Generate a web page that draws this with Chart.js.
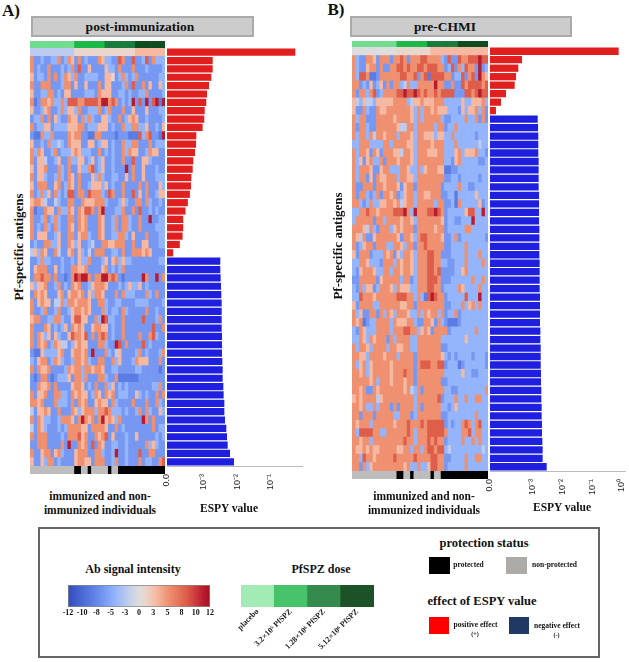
<!DOCTYPE html>
<html>
<head>
<meta charset="utf-8">
<script src="https://cdn.jsdelivr.net/npm/chart.js@4"></script>
<style>
body { margin: 0; background: #fff; width: 629px; height: 662px; overflow: hidden; position: relative; font-family: "Liberation Serif", serif; }
canvas { position: absolute; }
.txt { position: absolute; transform: translate(-50%, -50%); font-weight: bold; white-space: nowrap; color: #111; text-align: center; line-height: 1.15; }
.box { position: absolute; box-sizing: border-box; }
</style>
</head>
<body>
<script>
// Ab signal per antigen (rows) and individual (columns), one character per cell
const levelValues = { 0: 0, 1: -8, 2: -6, 3: -4, 4: -2, 5: 1, 6: 3, 7: 5, 8: 8, 9: 11 };

const signalA = [
  "4444444444 4445555555 5555555555 5666666666",
  "7223223372 3762723222 7633228722 8223827333",
  "7232272223 2372822622 2263327222 7222322223",
  "6233272723 7637223333 2266523732 3722222233",
  "7227772223 7726226222 7266222372 8227262263",
  "6223377232 6622223332 7666223323 2233722223",
  "7127767337 3888778888 7997872323 9282928919",
  "6223672237 3663722333 7237222722 6222622233",
  "2337272632 2766273732 2663227236 7622322223",
  "7233662333 3666772333 6662322733 7733622326",
  "2117337222 2767722117 7222212221 1183782219",
  "6223273343 2766622662 3662322733 7722272333",
  "7376223723 3367633322 7232322737 6622376622",
  "7266422362 2733662362 3622322722 8226632222",
  "6266722273 2722633782 3622322292 7226222322",
  "7266322373 2762722263 7322332262 7226222333",
  "6277722672 3762722366 6362322722 2272722263",
  "7237362732 3882772877 7328722722 8262722366",
  "6776422432 2772276667 7732223632 2772732232",
  "7122766273 3762768872 7922233722 7282232322",
  "7223723732 2772767222 7622372773 2272292233",
  "7232732732 2762767222 7622372773 2272222333",
  "7266622362 2772677322 7622337732 6222722233",
  "2322773362 2763622342 2776677722 7226622233",
  "4637622742 2672632427 7722332722 7776762222",
  "2237332223 2232633722 2362673633 2222222233",
  "2677722623 2277667222 2672323722 2222222222",
  "2778772722 1279899727 7997872122 2229722927",
  "6366722372 3276722367 7762223236 3362322222",
  "2767622267 2677672637 7622272733 3222732722",
  "7267662447 3776777622 7732233222 2333322223",
  "7223722372 2367767622 2732332732 2222722322",
  "6772233773 2268866227 3983322722 2228222372",
  "7222762323 6276762267 7662322722 2222228227",
  "7276362632 2687768272 7872322722 2272278322",
  "7276723764 4236766222 7732298272 2228232222",
  "2116333367 2267767292 2273246222 2372322237",
  "3267723763 2237767322 7722736222 3766622272",
  "7276672222 3767737767 7622332222 2332222212",
  "2127721233 3627737222 7732271111 1122222222",
  "2276672722 2267762327 2273623232 2222223372",
  "7266722773 3276766237 6276723332 2632322727",
  "7767222733 3272767226 7662732222 7222722732",
  "4266762272 2276367773 7787333232 2372732263",
  "7276332237 7762797672 7967637222 2229727222",
  "4276322232 3777766277 7762272322 2222227233",
  "7277722223 2777867227 6782622232 2622222323",
  "2277722227 2922767282 7622332232 2222736322",
  "7226772673 2226777227 7322392232 2282277222",
  "6226377232 2226776627 7722372232 2272332278"
];

const signalB = [
  "0000000000 0005555555 5556666666 6666666666",
  "7322776277 7277872777 8877773282 2877888988",
  "7322677272 2778878778 8788877238 2738772923",
  "7388711277 7777887782 7818888772 3382782976",
  "7723262362 7277347337 7777977227 2287888878",
  "7277378237 7778898898 7877878888 2228878988",
  "6436443666 6677773466 7666777333 3363366673",
  "6227322766 7777777637 3776766633 3263667372",
  "7377222777 7767777637 3777773223 3337337272",
  "7277322777 7776447737 7777377233 7333333333",
  "7377374776 7773777637 7666366337 3333332333",
  "3377733337 7377776637 7776777333 7333333433",
  "7377627627 7766477637 7766677333 6736667332",
  "7362673372 7776777637 7777777332 6733333223",
  "7377762267 7333776337 3677766112 2333333333",
  "7377262766 7773776637 7777777223 3233333233",
  "7227772776 7776267727 7777772333 3733223333",
  "7277323727 7672367737 7667772233 1333336333",
  "7732373366 7767467737 7777377223 1733333623",
  "3377877677 7788897397 7788987233 3336883393",
  "3777772773 7777677637 7777776233 2233393333",
  "7776473277 7367677727 7777677233 3337733333",
  "7647226777 7776277637 8877776223 7233333332",
  "7236772777 3377637727 7877777223 3337333333",
  "6277723337 6726377637 7788772223 3337333733",
  "3377633327 7737677637 7788773322 3337333373",
  "3267776337 7377677637 7788782222 3367333333",
  "2277777267 7777377237 7788872223 3333373373",
  "3273662377 7637666337 7788772333 3763333733",
  "3387776777 7778887737 3189877233 3338333933",
  "6277773377 7777667727 7777777223 3373673733",
  "7362277273 7637776337 3767737233 7233333333",
  "7671233777 7376667732 2776273211 1233333333",
  "3276333777 7377788773 6762777723 3333337333",
  "3376376777 2737777337 7777773333 3336333333",
  "7377637777 3776677337 7777772233 3333333333",
  "7766377776 7773777727 7777776323 2333323332",
  "7367367777 7677777727 8887788233 3123333332",
  "7767367777 7677787727 7777777333 3363322333",
  "7777767377 7677767727 7777772233 3333333333",
  "7767227677 7777767437 2777777332 2333333337",
  "6767777467 7777777737 7777782333 7337337733",
  "7767337377 7272777737 2777773323 6333333333",
  "7727772777 7733777237 7777772233 3333337333",
  "7677737777 7767778777 8788888232 3378737833",
  "7388887733 7777778737 7788888733 3377837733",
  "7767737777 7777787737 7787877233 3373373733",
  "7667676677 7776677377 3788788343 3333333343",
  "7738776777 7787777787 7778877223 3337337733",
  "7727367777 7777767337 3368877233 3337333333"
];

// dose group and protection per individual (same order in both panels)
const doseGroups =  "0000000000 0001111111 1122222222 2333333333";
const protection =  "0000000000 0001100100 0001001111 1111111111";

// ESPY value of each antigen
const espyA = [0.532, 1.82e-3, 1.82e-3, 1.66e-3, 1.41e-3, 1.23e-3, 1.17e-3, 1.05e-3, 1.02e-3, 0.91e-3,
  0.59e-3, 0.58e-3, 0.54e-3, 0.48e-3, 0.46e-3, 0.42e-3, 0.41e-3, 0.38e-3, 0.33e-3, 0.28e-3,
  0.24e-3, 0.24e-3, 0.23e-3, 0.19e-3, 0.12e-3,
  3.07e-3, 3.07e-3, 3.14e-3, 3.22e-3, 3.29e-3, 3.37e-3, 3.37e-3, 3.37e-3, 3.37e-3, 3.45e-3,
  3.45e-3, 3.45e-3, 3.53e-3, 3.61e-3, 3.61e-3, 3.78e-3, 3.86e-3, 4.05e-3, 4.05e-3, 4.24e-3,
  4.64e-3, 4.86e-3, 5.09e-3, 5.97e-3, 7.86e-3];
const espyB = [0.783, 0.425e-3, 0.319e-3, 0.267e-3, 0.240e-3, 0.122e-3, 0.083e-3, 0.056e-3,
  1.44e-3, 1.48e-3, 1.51e-3, 1.51e-3, 1.51e-3, 1.55e-3, 1.55e-3, 1.55e-3, 1.55e-3, 1.60e-3,
  1.60e-3, 1.60e-3, 1.60e-3, 1.64e-3, 1.64e-3, 1.64e-3, 1.64e-3, 1.68e-3, 1.68e-3, 1.68e-3,
  1.68e-3, 1.72e-3, 1.72e-3, 1.72e-3, 1.72e-3, 1.77e-3, 1.77e-3, 1.82e-3, 1.82e-3, 1.82e-3,
  1.86e-3, 1.86e-3, 1.91e-3, 1.91e-3, 1.96e-3, 1.96e-3, 2.01e-3, 2.01e-3, 2.07e-3, 2.12e-3,
  2.12e-3, 2.90e-3];
const redRowsA = 25;
const redRowsB = 8;

const espyTicksA = [7.87e-5, 1e-3, 1e-2, 1e-1];
const espyTickLabelsA = ['0.0', '10⁻³', '10⁻²', '10⁻¹'];
const espyMaxA = 0.841;
const espyTicksB = [3.52e-5, 1e-3, 1e-2, 1e-1, 1];
const espyTickLabelsB = ['0.0', '10⁻³', '10⁻²', '10⁻¹', '10⁰'];
const espyMaxB = 1.283;

const colorbarTicks = [-12, -9.6, -7.2, -4.8, -2.4, 0, 2.4, 4.8, 7.2, 9.6, 12];
const colorbarLabels = ['-12', '-10', '-8', '-5', '-3', '0', '3', '5', '8', '10', '12'];

const doseLabels = ['placebo', '3.2×10⁵ PfSPZ', '1.28×10⁶ PfSPZ', '5.12×10⁶ PfSPZ'];
const doseLegendValues = [1, 1, 1, 1];

// colours
const signalStops = [
  [-12, [52, 76, 190]], [-8, [90, 124, 228]], [-6, [118, 152, 242]], [-4, [148, 180, 251]], [-2, [188, 203, 238]],
  [0, [221, 221, 221]], [1, [233, 214, 204]], [3, [246, 184, 160]], [5, [239, 144, 112]], [8, [222, 94, 75]],
  [11, [184, 26, 46]], [12, [165, 15, 34]]
];
const doseStrip = ['#72dc8e', '#1cb848', '#1a7c3c', '#0f4d20'];
const doseSwatch = ['#a3ebb5', '#47c46a', '#358a4e', '#1d5228'];
const red = '#e21f1f';
const blue = '#1f1fe0';
const serif = '"Liberation Serif", serif';

function signalColor(v) {
  for (let i = 1; i < signalStops.length; i++) {
    if (v <= signalStops[i][0]) {
      const a = signalStops[i - 1], b = signalStops[i];
      const t = (v - a[0]) / (b[0] - a[0]);
      const c = a[1].map((x, k) => Math.round(x + (b[1][k] - x) * t));
      return `rgb(${c[0]},${c[1]},${c[2]})`;
    }
  }
  return 'rgb(165,15,34)';
}

function addCanvas(x, y, w, h) {
  const c = document.createElement('canvas');
  c.width = w;
  c.height = h;
  c.style.left = x + 'px';
  c.style.top = y + 'px';
  c.style.width = w + 'px';
  c.style.height = h + 'px';
  document.body.appendChild(c);
  return c.getContext('2d');
}

function addText(text, x, y, size, extra) {
  const d = document.createElement('div');
  d.className = 'txt';
  d.innerHTML = text;
  d.style.left = x + 'px';
  d.style.top = y + 'px';
  d.style.fontSize = size + 'px';
  if (extra) Object.assign(d.style, extra);
  document.body.appendChild(d);
}

function addBox(x, y, w, h, style) {
  const d = document.createElement('div');
  d.className = 'box';
  d.style.left = x + 'px';
  d.style.top = y + 'px';
  d.style.width = w + 'px';
  d.style.height = h + 'px';
  Object.assign(d.style, style);
  document.body.appendChild(d);
}

// heatmap: horizontal stacked bars, each individual is a dataset of unit length
function cellChart(x, y, w, h, rows, cellColor) {
  const clean = rows.map(r => r.replace(/ /g, ''));
  const datasets = [];
  for (let c = 0; c < clean[0].length; c++) {
    datasets.push({
      data: clean.map(() => 1),
      backgroundColor: clean.map(r => cellColor(r[c])),
      barPercentage: 1,
      categoryPercentage: 1,
      borderWidth: 0
    });
  }
  new Chart(addCanvas(x, y, w, h), {
    type: 'bar',
    data: { labels: clean.map((r, i) => i), datasets: datasets },
    options: {
      indexAxis: 'y',
      responsive: false,
      animation: false,
      events: [],
      layout: { padding: 0 },
      plugins: { legend: { display: false }, tooltip: { enabled: false } },
      scales: {
        x: { type: 'linear', stacked: true, min: 0, max: clean[0].length, display: false },
        y: { stacked: true, display: false }
      }
    }
  });
}

function espyChart(x, y, w, h, values, redRows, tickValues, tickLabels, maxValue) {
  new Chart(addCanvas(x, y, w, h), {
    type: 'bar',
    data: {
      labels: values.map((v, i) => i),
      datasets: [{
        data: values,
        backgroundColor: values.map((v, i) => i < redRows ? red : blue),
        barPercentage: 0.86,
        categoryPercentage: 1,
        borderWidth: 0
      }]
    },
    options: {
      indexAxis: 'y',
      responsive: false,
      animation: false,
      events: [],
      layout: { padding: { left: 10, right: 20, top: 0, bottom: 0 } },
      plugins: { legend: { display: false }, tooltip: { enabled: false } },
      scales: {
        y: { display: false },
        x: {
          type: 'logarithmic',
          bounds: 'data',
          min: tickValues[0],
          max: maxValue,
          position: 'bottom',
          grid: { display: false, drawTicks: false },
          border: { color: '#bbbbbb', width: 1 },
          afterBuildTicks: axis => { axis.ticks = tickValues.map(v => ({ value: v })); },
          afterFit: axis => { axis.height = 30; },
          ticks: {
            autoSkip: false,
            minRotation: 90,
            maxRotation: 90,
            padding: 8,
            color: '#222',
            font: { family: '"Liberation Sans", sans-serif', size: 9 },
            callback: (value, index) => tickLabels[index]
          }
        }
      }
    }
  });
}

// panel A
cellChart(30, 41, 135, 7, [doseGroups], v => doseStrip[v]);
cellChart(30, 48, 135, 418, signalA, v => signalColor(levelValues[v]));
cellChart(30, 466, 135, 8, [protection], v => v === '1' ? '#000' : '#bdbdbd');
espyChart(157, 48, 165, 448, espyA, redRowsA, espyTicksA, espyTickLabelsA, espyMaxA);

// panel B
cellChart(352, 41, 136, 6, [doseGroups], v => doseStrip[v]);
cellChart(352, 47, 136, 424, signalB, v => signalColor(levelValues[v]));
cellChart(352, 471, 136, 8, [protection], v => v === '1' ? '#000' : '#bdbdbd');
espyChart(480, 47, 165, 454, espyB, redRowsB, espyTicksB, espyTickLabelsB, espyMaxB);

// panel headers and axis titles
addBox(31, 16, 223, 21, { background: '#cccccc', border: '2px solid #aaaaaa' });
addBox(350, 16, 222, 21, { background: '#cccccc', border: '2px solid #aaaaaa' });
addText('post-immunization', 140, 27, 13.5);
addText('pre-CHMI', 445, 27, 13.5);
addText('A)', 11, 11, 17);
addText('B)', 336, 10, 17);
addText('Pf-specific antigens', 19, 247, 13, { transform: 'translate(-50%, -50%) rotate(-90deg)' });
addText('Pf-specific antigens', 338, 246, 13, { transform: 'translate(-50%, -50%) rotate(-90deg)' });
addText('immunized and non-<br>immunized individuals', 100, 503, 11.5, { lineHeight: '13.5px' });
addText('immunized and non-<br>immunized individuals', 424, 503, 11.5, { lineHeight: '13.5px' });
addText('ESPY value', 229, 509, 11.5);
addText('ESPY value', 562, 508, 11.5);

// legend frame
addBox(38, 527, 562, 131, { border: '2px solid #666666' });
addText('Ab signal intensity', 133, 570, 12);
addText('PfSPZ dose', 321, 570, 12);
addText('protection status', 484, 543, 12.5);
addText('effect of ESPY value', 482, 601, 12.5);

// colour bar
new Chart(addCanvas(58, 585, 162, 36), {
  type: 'bar',
  data: {
    labels: ['signal'],
    datasets: [{
      data: [[-12, 12]],
      backgroundColor: ctx => {
        const area = ctx.chart.chartArea;
        if (!area) return '#ddd';
        const g = ctx.chart.ctx.createLinearGradient(area.left, 0, area.right, 0);
        signalStops.forEach(s => g.addColorStop((s[0] + 12) / 24, signalColor(s[0])));
        return g;
      },
      borderColor: '#888888',
      borderWidth: 1,
      borderSkipped: false,
      barPercentage: 1,
      categoryPercentage: 1
    }]
  },
  options: {
    indexAxis: 'y',
    responsive: false,
    animation: false,
    events: [],
    layout: { padding: { left: 10, right: 10 } },
    plugins: { legend: { display: false }, tooltip: { enabled: false } },
    scales: {
      y: { display: false },
      x: {
        type: 'linear',
        min: -12,
        max: 12,
        grid: { display: false, drawTicks: false },
        border: { display: false },
        afterBuildTicks: axis => { axis.ticks = colorbarTicks.map(v => ({ value: v })); },
        afterFit: axis => { axis.height = 14; },
        ticks: {
          autoSkip: false,
          maxRotation: 0,
          padding: 1,
          color: '#111',
          font: { family: serif, size: 8, weight: 'bold' },
          callback: (value, index) => colorbarLabels[index]
        }
      }
    }
  }
});

// dose swatches
new Chart(addCanvas(211, 585, 193, 66), {
  type: 'bar',
  data: {
    labels: doseLabels,
    datasets: [{
      data: doseLegendValues,
      backgroundColor: doseSwatch,
      barPercentage: 1,
      categoryPercentage: 1,
      borderWidth: 0
    }]
  },
  options: {
    responsive: false,
    animation: false,
    events: [],
    layout: { padding: { left: 30, right: 30 } },
    plugins: { legend: { display: false }, tooltip: { enabled: false } },
    scales: {
      y: { display: false, min: 0, max: 1 },
      x: {
        grid: { display: false, drawTicks: false },
        border: { display: false },
        afterFit: axis => { axis.height = 44; },
        ticks: {
          autoSkip: false,
          minRotation: 45,
          maxRotation: 45,
          padding: 0,
          color: '#222',
          font: { family: serif, size: 8, weight: 'bold' }
        }
      }
    }
  }
});

// protection and effect keys
addBox(429, 557, 21, 17, { background: '#000' });
addText('protected', 468.5, 565, 7.5);
addBox(506, 557, 21, 17, { background: '#aeaaa8' });
addText('non-protected', 554.5, 565, 7.5);
addBox(429, 617, 20, 17, { background: '#ff0000' });
addText('positive effect', 475.5, 625, 7.5);
addText('(+)', 475, 634, 6);
addBox(509, 617, 20, 17, { background: '#1f3864' });
addText('negative effect', 557, 626, 7.5);
addText('(-)', 556.5, 635, 6);
</script>
</body>
</html>
